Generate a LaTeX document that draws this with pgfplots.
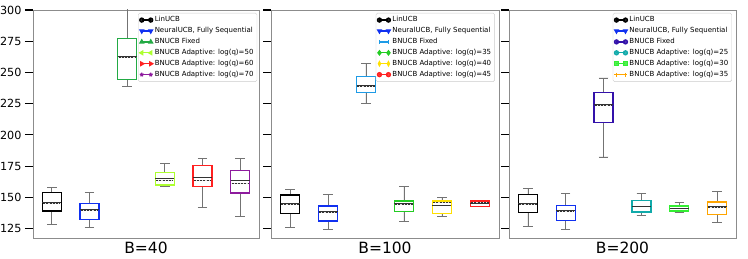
\documentclass[border=0pt]{standalone}
\usepackage{pgfplots}
\pgfplotsset{compat=1.18}
\usepgfplotslibrary{statistics}
\usepackage{fontspec}
\setmainfont{DejaVu Sans}
\definecolor{c1green}{HTML}{22AA44}
\definecolor{c1lime}{HTML}{ADFF2F}
\definecolor{c1red}{HTML}{FF2020}
\definecolor{c1purple}{HTML}{8E1B9E}
\definecolor{c2lblue}{HTML}{1E9BE6}
\definecolor{c2green}{HTML}{22CC22}
\definecolor{c2yellow}{HTML}{FFE000}
\definecolor{c3dblue}{HTML}{3311AA}
\definecolor{c3teal}{HTML}{11AAAA}
\definecolor{c3green}{HTML}{33EE33}
\definecolor{c3orange}{HTML}{FFA500}
\definecolor{cblue}{HTML}{1030F0}
\newcommand\bx[8]{%
\addplot[forget plot, draw=#2, line width=1.4pt, fill=white, boxplot prepared={draw position=#1, lower whisker=#3, lower quartile=#4, median=#5, upper quartile=#6, upper whisker=#7, average=#8}] coordinates {};
}
\pgfplotsset{
  panel/.style={
    scale only axis, anchor=south west, height=228pt,
    xmin=0.5, xmax=6.5, ymin=117.5, ymax=300,
    xtick=\empty, ytick={125,150,...,300}, ytick pos=left,
    tick align=outside, major tick length=8pt,
    every tick/.style={black, line width=1.1pt},
    axis line style={black!45, line width=0.8pt},
    /pgf/number format/assume math mode=true,
    ticklabel style={font=\fontsize{11.2}{13}\selectfont},
    xlabel style={font=\fontsize{15.5}{18}\selectfont, yshift=7.5pt},
    boxplot/draw direction=y,
    boxplot/box extend=0.5,
    boxplot/whisker extend=0.25,
    boxplot/every box/.style={line width=1.4pt, fill=white},
    boxplot/every whisker/.style={black!55, line width=0.8pt},
    boxplot/every median/.style={black!80, line width=1pt},
    boxplot/draw/average/.code={\draw[black!80, line width=0.9pt, dash pattern=on 2pt off 1.2pt] (boxplot box cs:\pgfplotsboxplotvalue{average},0.04) -- (boxplot box cs:\pgfplotsboxplotvalue{average},0.96);},
    legend image code/.code={\draw[line width=1.3pt, mark size=2pt, #1] plot coordinates {(0pt,0pt) (9pt,0pt)};},
    legend style={draw=black!20, rounded corners=1.5pt, fill=white, fill opacity=0.85, text opacity=1,
      font=\fontsize{7}{8}\selectfont, inner sep=1.5pt, row sep=0.1pt, cells={anchor=west}, anchor=north east},
  }
}
\begin{document}
\begin{tikzpicture}
\path[use as bounding box] (0pt,0pt) rectangle (748pt,259pt);
% Panel 1
\begin{axis}[panel, at={(33pt,21pt)}, width=226pt, xlabel={B=40},
  legend style={at={(0.992,0.987)}}]
\bx{1}{black}{128}{139}{146}{154}{158}{145}
\bx{2}{cblue}{126}{132.5}{140.5}{145}{154}{139.8}
\bx{3}{c1green}{239}{244.5}{262.7}{277.3}{330}{262.2}
\bx{4}{c1lime}{159}{159.8}{165.3}{170}{177}{163.2}
\bx{5}{c1red}{142}{158.7}{166}{175.7}{181}{163.5}
\bx{6}{c1purple}{135}{153.6}{163.5}{171.5}{181}{161}
\addlegendimage{black, mark=*}\addlegendentry{LinUCB}
\addlegendimage{cblue, mark=triangle*, mark options={rotate=180}}\addlegendentry{NeuralUCB, Fully Sequential}
\addlegendimage{c1green, mark=triangle*}\addlegendentry{BNUCB Fixed}
\addlegendimage{c1lime, mark=triangle*, mark options={rotate=90}}\addlegendentry{BNUCB Adaptive: log(q)=50}
\addlegendimage{c1red, mark=triangle*, mark options={rotate=-90}}\addlegendentry{BNUCB Adaptive: log(q)=60}
\addlegendimage{c1purple, mark=star}\addlegendentry{BNUCB Adaptive: log(q)=70}
\end{axis}
% Panel 2
\begin{axis}[panel, at={(271pt,21pt)}, width=228pt, xlabel={B=100}, yticklabels=\empty,
  legend style={at={(0.982,0.987)}}]
\bx{1}{black}{125.6}{137}{145}{152}{156.3}{144}
\bx{2}{cblue}{124}{131}{138.5}{143}{152.5}{138}
\bx{3}{c2lblue}{225}{234}{239.5}{247}{257.3}{238.5}
\bx{4}{c2green}{131}{138.7}{145.5}{147.2}{158.4}{144}
\bx{5}{c2yellow}{135}{137.3}{143.7}{147.2}{150}{145.6}
\bx{6}{c1red}{142.7}{142.8}{144.8}{147.2}{147.3}{146}
\addlegendimage{black, mark=*}\addlegendentry{LinUCB}
\addlegendimage{cblue, mark=triangle*, mark options={rotate=180}}\addlegendentry{NeuralUCB, Fully Sequential}
\addlegendimage{c2lblue, mark=|}\addlegendentry{BNUCB Fixed}
\addlegendimage{c2green, mark=diamond*}\addlegendentry{BNUCB Adaptive: log(q)=35}
\addlegendimage{c2yellow, mark=diamond*, mark options={xscale=0.7}}\addlegendentry{BNUCB Adaptive: log(q)=40}
\addlegendimage{c1red, mark=*}\addlegendentry{BNUCB Adaptive: log(q)=45}
\end{axis}
% Panel 3
\begin{axis}[panel, at={(509pt,21pt)}, width=227pt, xlabel={B=200}, yticklabels=\empty,
  legend style={at={(0.982,0.987)}}]
\bx{1}{black}{127}{138}{145.5}{152.5}{157}{144.4}
\bx{2}{cblue}{124.5}{131.7}{139.5}{143.5}{153}{139}
\bx{3}{c3dblue}{182.4}{210.1}{224.5}{233.9}{245.6}{223.5}
\bx{4}{c3teal}{135.7}{138.4}{143}{147.7}{153}{142.5}
\bx{5}{c3green}{138.1}{139}{141.5}{143.2}{146.1}{141.2}
\bx{6}{c3orange}{130.1}{136.5}{142.7}{146.4}{155}{142}
\addlegendimage{black, mark=*}\addlegendentry{LinUCB}
\addlegendimage{cblue, mark=triangle*, mark options={rotate=180}}\addlegendentry{NeuralUCB, Fully Sequential}
\addlegendimage{c3dblue, mark=*}\addlegendentry{BNUCB Fixed}
\addlegendimage{c3teal, mark=*}\addlegendentry{BNUCB Adaptive: log(q)=25}
\addlegendimage{c3green, mark=square*}\addlegendentry{BNUCB Adaptive: log(q)=30}
\addlegendimage{c3orange, mark=+}\addlegendentry{BNUCB Adaptive: log(q)=35}
\end{axis}
\end{tikzpicture}
\end{document}
